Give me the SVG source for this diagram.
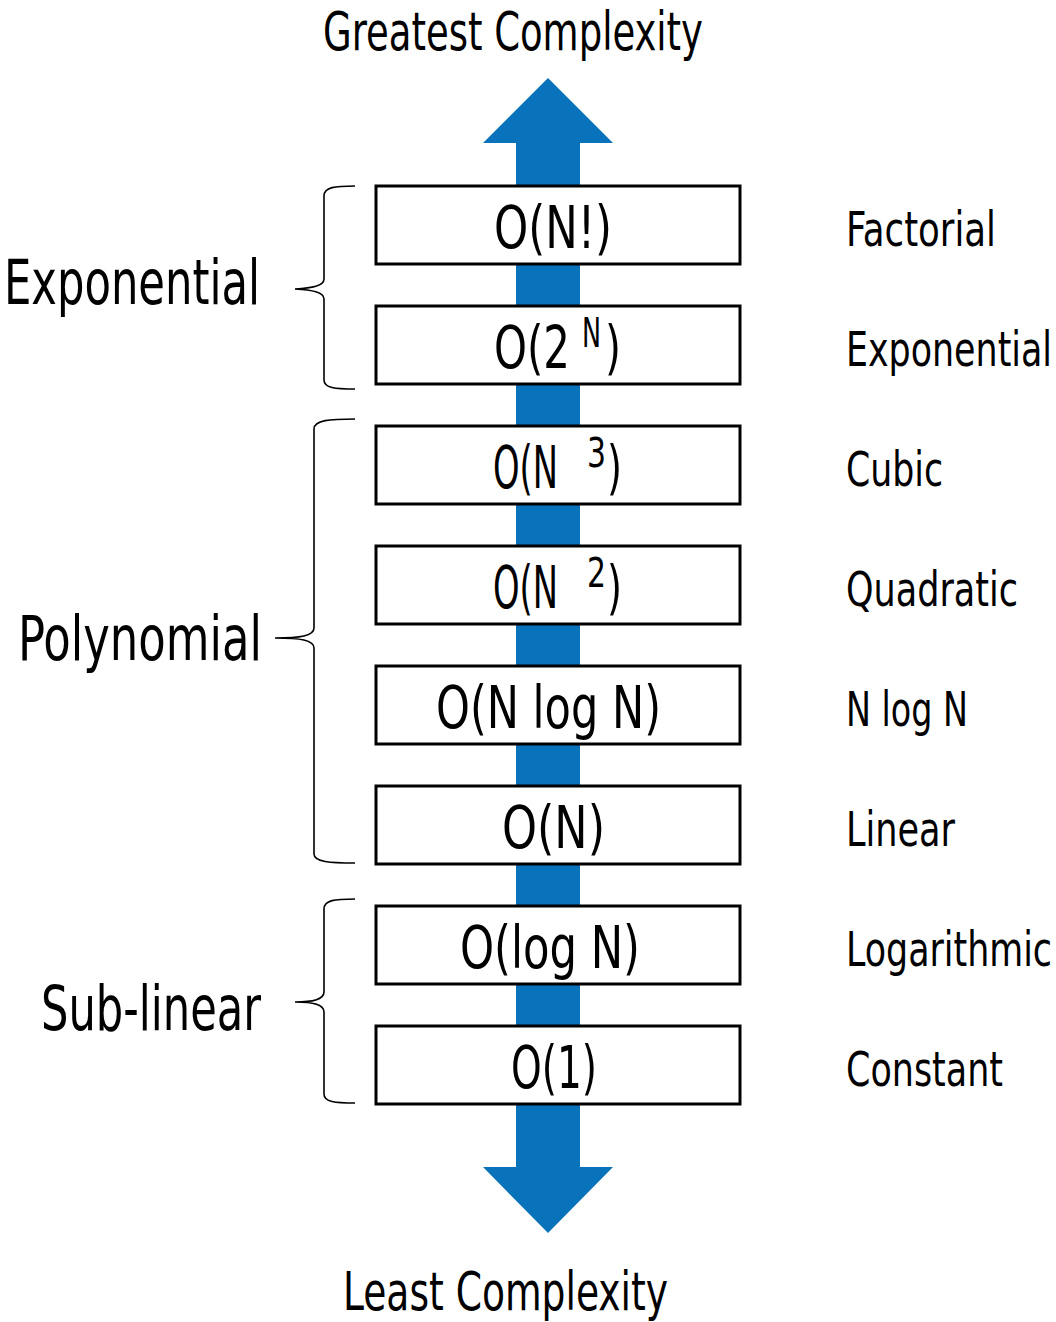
<svg xmlns="http://www.w3.org/2000/svg" width="1056" height="1322" viewBox="0 0 1056 1322">
<style>
text{font-family:"Liberation Sans Narrow","DejaVu Sans Condensed","Liberation Sans",sans-serif;font-stretch:condensed;fill:#000}
.box{fill:#fff;stroke:#000;stroke-width:3}
.bt{font-size:58px}
.sup{font-size:40px}
.rl{font-size:48px}
.ll{font-size:62px}
.tt{font-size:54px}
.brace{fill:none;stroke:#000;stroke-width:1.6}
</style>
<rect width="1056" height="1322" fill="#fff"/>
<g id="connectors">
<polygon id="axis-arrow" fill="#0872ba" points="548,78 613,143 580,143 580,1167 613,1167 548,1233 483,1167 516,1167 516,143 483,143"/>
<path class="brace" d="M355,186 C335,186 324,187 324,196 L324,279 C324,286 312,288 295,289 C312,290 324,292 324,299 L324,380 C324,388 335,389 355,389"/>
<path class="brace" d="M355,419 C330,419 314,420 314,429 L314,628 C314,636 300,638 275,638 C300,638 314,640 314,648 L314,854 C314,862 330,863 355,863"/>
<path class="brace" d="M355,899 C335,899 324,900 324,909 L324,992 C324,1000 312,1002 295,1002 C312,1002 324,1004 324,1012 L324,1094 C324,1102 335,1103 355,1103"/>
</g>
<g id="title-top"><text class="tt" x="323" y="50" textLength="380" lengthAdjust="spacingAndGlyphs">Greatest Complexity</text></g>
<g id="title-bottom"><text class="tt" x="343" y="1310" textLength="325" lengthAdjust="spacingAndGlyphs">Least Complexity</text></g>

<g id="group-exponential"><text class="ll" x="4" y="304" textLength="256" lengthAdjust="spacingAndGlyphs">Exponential</text></g>
<g id="group-polynomial"><text class="ll" x="18" y="660" textLength="244" lengthAdjust="spacingAndGlyphs">Polynomial</text></g>
<g id="group-sublinear"><text class="ll" x="41" y="1030" textLength="220" lengthAdjust="spacingAndGlyphs">Sub-linear</text></g>

<g id="n-factorial">
<rect class="box" x="376" y="186" width="364" height="78"/>
<text class="bt" x="494" y="248" textLength="118" lengthAdjust="spacingAndGlyphs">O(N!)</text>
<text class="rl" x="846" y="246" textLength="150" lengthAdjust="spacingAndGlyphs">Factorial</text>
</g>
<g id="n-exponential">
<rect class="box" x="376" y="306" width="364" height="78"/>
<text class="bt" y="368"><tspan x="494" textLength="76" lengthAdjust="spacingAndGlyphs">O(2</tspan><tspan class="sup" x="582" y="347" textLength="19" lengthAdjust="spacingAndGlyphs">N</tspan><tspan x="605" y="368" textLength="16" lengthAdjust="spacingAndGlyphs">)</tspan></text>
<text class="rl" x="846" y="366" textLength="206" lengthAdjust="spacingAndGlyphs">Exponential</text>
</g>
<g id="n-cubic">
<rect class="box" x="376" y="426" width="364" height="78"/>
<text class="bt" y="488"><tspan x="493" textLength="65" lengthAdjust="spacingAndGlyphs">O(N</tspan><tspan class="sup" x="587" y="467" textLength="19" lengthAdjust="spacingAndGlyphs">3</tspan><tspan x="607" y="488" textLength="15" lengthAdjust="spacingAndGlyphs">)</tspan></text>
<text class="rl" x="846" y="486" textLength="97" lengthAdjust="spacingAndGlyphs">Cubic</text>
</g>
<g id="n-quadratic">
<rect class="box" x="376" y="546" width="364" height="78"/>
<text class="bt" y="608"><tspan x="493" textLength="65" lengthAdjust="spacingAndGlyphs">O(N</tspan><tspan class="sup" x="587" y="587" textLength="19" lengthAdjust="spacingAndGlyphs">2</tspan><tspan x="607" y="608" textLength="15" lengthAdjust="spacingAndGlyphs">)</tspan></text>
<text class="rl" x="846" y="606" textLength="172" lengthAdjust="spacingAndGlyphs">Quadratic</text>
</g>
<g id="n-nlogn">
<rect class="box" x="376" y="666" width="364" height="78"/>
<text class="bt" x="436" y="728" textLength="225" lengthAdjust="spacingAndGlyphs">O(N log N)</text>
<text class="rl" x="846" y="726" textLength="122" lengthAdjust="spacingAndGlyphs">N log N</text>
</g>
<g id="n-linear">
<rect class="box" x="376" y="786" width="364" height="78"/>
<text class="bt" x="502" y="848" textLength="103" lengthAdjust="spacingAndGlyphs">O(N)</text>
<text class="rl" x="846" y="846" textLength="109" lengthAdjust="spacingAndGlyphs">Linear</text>
</g>
<g id="n-logarithmic">
<rect class="box" x="376" y="906" width="364" height="78"/>
<text class="bt" x="460" y="968" textLength="180" lengthAdjust="spacingAndGlyphs">O(log N)</text>
<text class="rl" x="846" y="966" textLength="206" lengthAdjust="spacingAndGlyphs">Logarithmic</text>
</g>
<g id="n-constant">
<rect class="box" x="376" y="1026" width="364" height="78"/>
<text class="bt" x="511" y="1088" textLength="86" lengthAdjust="spacingAndGlyphs">O(1)</text>
<text class="rl" x="846" y="1086" textLength="157" lengthAdjust="spacingAndGlyphs">Constant</text>
</g>
</svg>
